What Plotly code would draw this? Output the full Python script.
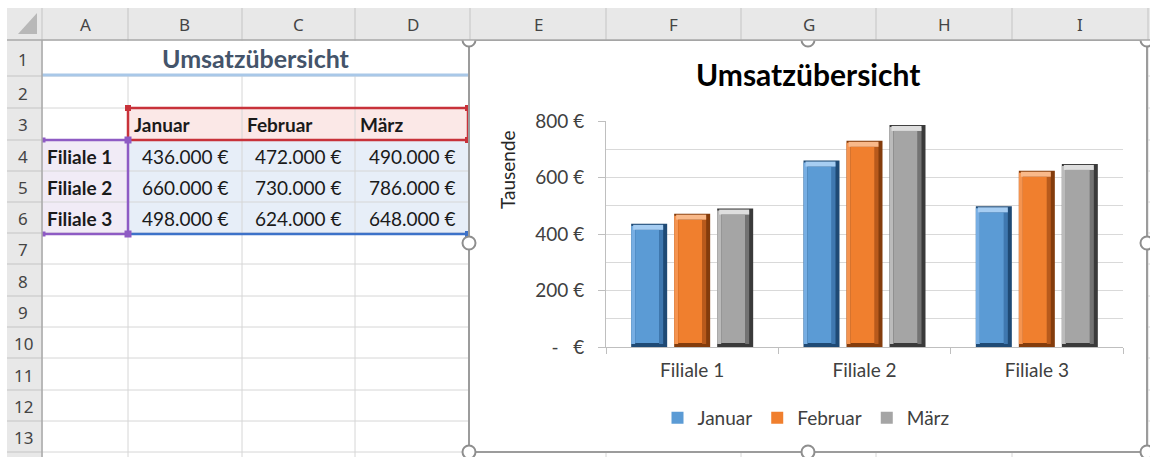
import plotly.graph_objects as go

W, H = 1150, 457

# ---------------- data ----------------
categories = ["Filiale 1", "Filiale 2", "Filiale 3"]
months = ["Januar", "Februar", "März"]
januar = [436, 660, 498]
februar = [472, 730, 624]
maerz = [490, 786, 648]
series_values = [januar, februar, maerz]
ytick_vals = [0, 200, 400, 600, 800]
ytick_text = ["-\u00a0\u00a0\u00a0€", "200 €", "400 €", "600 €", "800 €"]
chart_title = "Umsatzübersicht"
y_unit_label = "Tausende"
col_letters = ["A", "B", "C", "D", "E", "F", "G", "H", "I"]
row_numbers = [str(i) for i in range(1, 14)]

# ---------------- styles ----------------
CAL = "Lato"
SEG = "Noto Sans"
palette = [
    dict(main="#5b9bd5", dark="#1f4a75", light="#a6cdf2", side="#77aee3", mid="#3f78b0"),
    dict(main="#f07f2e", dark="#843c0c", light="#f9b98a", side="#f59450", mid="#b85a1c"),
    dict(main="#a5a5a5", dark="#3a3a3a", light="#dedede", side="#bbbbbb", mid="#737373"),
]

# geometry (pixels)
col_bounds = [42, 128, 242, 355, 470, 606, 741, 876, 1012, 1148]
row_bounds = [40, 76, 108, 140, 171, 202, 233, 264, 296, 327, 358, 390, 421, 452]
PX0, PX1, PY0, PY1 = 606, 1123, 121, 347


def fx(x):
    return x / W


def fy(y):
    return 1 - y / H


shapes = []


def rect(x0, y0, x1, y1, fill=None, line=None, lw=0):
    shapes.append(dict(type="rect", xref="paper", yref="paper", layer="below",
                       x0=fx(x0), x1=fx(x1), y0=fy(y1), y1=fy(y0),
                       fillcolor=fill, line=dict(color=line or "rgba(0,0,0,0)", width=lw)))


def seg(x0, y0, x1, y1, color, lw=1):
    shapes.append(dict(type="line", xref="paper", yref="paper", layer="below",
                       x0=fx(x0), x1=fx(x1), y0=fy(y0), y1=fy(y1),
                       line=dict(color=color, width=lw)))


def circle(cx, cy, r, fill, line, lw):
    shapes.append(dict(type="circle", xref="paper", yref="paper", layer="below",
                       x0=fx(cx - r), x1=fx(cx + r), y0=fy(cy + r), y1=fy(cy - r),
                       fillcolor=fill, line=dict(color=line, width=lw)))


# cell fills
rect(128, 108, 469, 140, fill="#fbe8e7")
rect(42, 140, 128, 234, fill="#f1ebf6")
rect(128, 140, 469, 234, fill="#e7eef8")

# sheet gridlines
for x in col_bounds:
    seg(x, 40, x, H, "#d6d6d6", 1)
for y in row_bounds:
    seg(42, y, W, y, "#d6d6d6", 1)
# merged cells in row 1 -> hide inner vertical lines
rect(43, 41, 469, 75, fill="white")
seg(42, 75, 469, 75, "#a9c8e8", 3)

# selection highlights
seg(128, 108, 468, 108, "#c8323a", 2.5)
seg(128, 140, 468, 140, "#c8323a", 2.5)
seg(128, 108, 128, 140, "#c8323a", 2.5)
seg(468, 108, 468, 140, "#c8323a", 2.5)
seg(42, 140, 128, 140, "#8e5bc4", 2.5)
seg(42, 234, 128, 234, "#8e5bc4", 2.5)
seg(128, 140, 128, 234, "#8e5bc4", 2.5)
seg(130, 234, 468, 234, "#3d72c9", 2.5)
for (x, y, c, s) in [(128, 108, "#c8323a", 6), (468, 108, "#c8323a", 6), (468, 140, "#c8323a", 6),
                     (43, 140, "#8e5bc4", 5), (128, 140, "#8e5bc4", 7), (43, 234, "#8e5bc4", 5),
                     (128, 234, "#8e5bc4", 7), (468, 234, "#3d72c9", 6)]:
    rect(x - s / 2, y - s / 2, x + s / 2, y + s / 2, fill=c)

# chart object
rect(469, 40, 1147, 452, fill="white", line="#9c9c9c", lw=2)
for (cx, cy) in [(469, 40), (808, 40), (1147, 40), (469, 243), (1147, 243),
                 (469, 452), (808, 452), (1147, 452)]:
    circle(cx, cy, 6.5, "white", "#8e8e8e", 2)

# headers
rect(7, 8, W, 40, fill="#e8e8e8")
rect(7, 40, 42, H, fill="#e8e8e8")
for x in col_bounds[1:]:
    seg(x, 8, x, 40, "#c4c4c4", 1)
seg(42, 8, 42, 40, "#c4c4c4", 1)
for y in row_bounds[1:]:
    seg(7, y, 42, y, "#c4c4c4", 1)
seg(7, 40, W, 40, "#a8a8a8", 1.5)
seg(42, 40, 42, H, "#a8a8a8", 1.5)
shapes.append(dict(type="path", xref="paper", yref="paper", layer="below",
                   path=f"M {fx(18)} {fy(34)} L {fx(37)} {fy(34)} L {fx(37)} {fy(13)} Z",
                   fillcolor="#b8b8b8", line=dict(width=0)))

# ---------------- annotations ----------------
ann = []


def text(x, y, s, size, color, font=CAL, bold=False, xanchor="center", angle=0):
    ann.append(dict(xref="paper", yref="paper", x=fx(x), y=fy(y), text=f"<b>{s}</b>" if bold else s,
                    showarrow=False, xanchor=xanchor, yanchor="middle", textangle=angle,
                    font=dict(family=font, size=size, color=color)))


for i, c in enumerate(col_letters):
    text((col_bounds[i] + col_bounds[i + 1]) / 2, 25, c, 17, "#444444", font=SEG)
for i, r in enumerate(row_numbers):
    text(23, (row_bounds[i] + row_bounds[i + 1]) / 2 + 1, r, 17, "#444444", font=SEG)

text(256, 58, chart_title, 25, "#44546a", bold=True)
head_x = [132, 245, 358]
for i, m in enumerate(months):
    text(head_x[i], 125, m, 19, "#1a1a1a", bold=True, xanchor="left")
val_right = [231, 344, 458]
for r, cat in enumerate(categories):
    yc = (row_bounds[r + 3] + row_bounds[r + 4]) / 2 + 1
    text(45, yc, cat, 19, "#1a1a1a", bold=True, xanchor="left")
    for c in range(3):
        v = series_values[c][r]
        s = f"{v * 1000:,}".replace(",", ".") + " €"
        text(val_right[c], yc, s, 19, "#1a1a1a", xanchor="right")

text(808, 74, chart_title, 30, "#000000", bold=True)
text(508, 170, y_unit_label, 19, "#262626", angle=-90)

# ---------------- bars ----------------
ux = 3 / (PX1 - PX0)
uy = 800 / (PY1 - PY0)
traces = []
for s, (name, vals) in enumerate(zip(months, series_values)):
    p = palette[s]
    oc = (s - 1) * 43
    common = dict(x=categories, hoverinfo="skip", marker_line_width=0)
    traces.append(go.Bar(y=vals, offset=(oc - 18) * ux, width=36 * ux, marker_color=p["dark"],
                         showlegend=False, **common))
    traces.append(go.Bar(y=[v - 6 * uy for v in vals], base=[3 * uy] * 3, offset=(oc + 10) * ux,
                         width=4 * ux, marker_color=p["mid"], showlegend=False, **common))
    traces.append(go.Bar(y=[v - 5 * uy for v in vals], base=[3 * uy] * 3, offset=(oc - 18) * ux,
                         width=4 * ux, marker_color=p["side"], showlegend=False, **common))
    traces.append(go.Bar(y=[v - 10 * uy for v in vals], base=[4 * uy] * 3, offset=(oc - 14) * ux,
                         width=24 * ux, marker_color=p["main"], name=name, legendrank=s + 1,
                         showlegend=True, **common))
    traces.append(go.Bar(y=[5 * uy] * 3, base=[v - 6 * uy for v in vals], offset=(oc - 16) * ux,
                         width=30 * ux, marker_color=p["light"], showlegend=False, **common))

fig = go.Figure(traces)
fig.update_layout(
    width=W, height=H, autosize=False,
    margin=dict(l=0, r=0, t=0, b=0, pad=0, autoexpand=False),
    paper_bgcolor="white", plot_bgcolor="rgba(0,0,0,0)",
    barmode="overlay",
    shapes=shapes, annotations=ann,
    showlegend=True,
    legend=dict(orientation="h", x=fx(806), xanchor="center", y=fy(418), yanchor="middle",
                font=dict(family=CAL, size=19, color="#404040"), bgcolor="rgba(0,0,0,0)",
                itemwidth=30, traceorder="normal"),
    xaxis=dict(domain=[fx(PX0), fx(PX1)], type="category", categoryorder="array",
               categoryarray=categories, range=[-0.5, 2.5], showline=True, linecolor="#bfbfbf",
               linewidth=1, ticks="outside", tickson="boundaries", ticklen=6, tickcolor="#bfbfbf",
               showgrid=False, tickfont=dict(family=CAL, size=19, color="#404040"),
               ticklabelstandoff=6, fixedrange=True, automargin=False),
    yaxis=dict(domain=[fy(PY1), fy(PY0)], range=[0, 800], tickmode="array", tickvals=ytick_vals,
               ticktext=ytick_text, showline=True, linecolor="#bfbfbf", linewidth=1,
               ticks="outside", ticklen=7, tickcolor="#bfbfbf", showgrid=True, gridcolor="#d9d9d9",
               zeroline=False, tickfont=dict(family=CAL, size=19, color="#404040"),
               ticklabelstandoff=10, automargin=False,
               minor=dict(tickmode="linear", tick0=0, dtick=100, showgrid=True,
                          gridcolor="#d9d9d9", ticks=""), fixedrange=True),
)
fig.write_html("out.html", config={"displayModeBar": False},
               post_script="document.body.style.margin='0';document.body.style.overflow='hidden';")
